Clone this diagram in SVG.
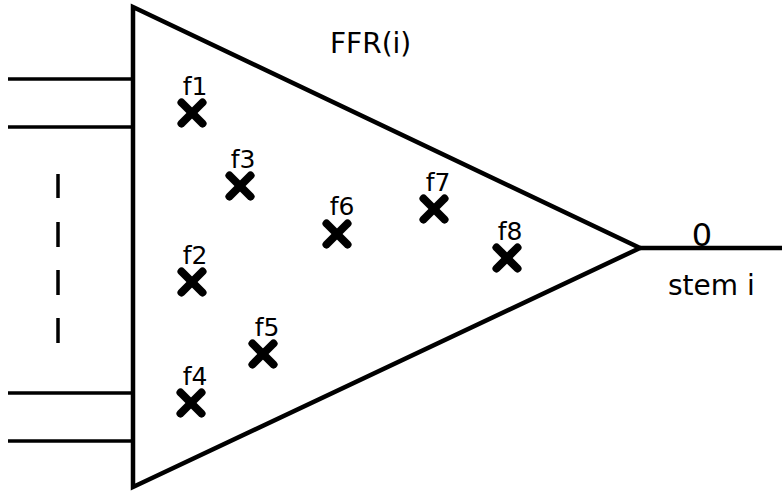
<svg xmlns="http://www.w3.org/2000/svg" width="782" height="491" viewBox="0 0 782 491">
<style>
.ln{stroke:#000;fill:none;stroke-width:4.5;stroke-linejoin:miter}
.in{stroke:#000;stroke-width:3.5}
.x{stroke:#000;stroke-width:8;stroke-linecap:round}
.lb{font-family:"DejaVu Sans",sans-serif;font-size:25px;fill:#000;text-anchor:middle}
.big{font-family:"DejaVu Sans",sans-serif;font-size:28px;fill:#000}
</style>
<defs>
<g id="cross"><line class="x" x1="-10.5" y1="-10.5" x2="10.5" y2="10.5"/><line class="x" x1="-10.5" y1="10.5" x2="10.5" y2="-10.5"/></g>
</defs>
<rect width="782" height="491" fill="#fff"/>
<g id="connectors">
<line class="in" x1="8" y1="79" x2="133" y2="79"/>
<line class="in" x1="8" y1="127" x2="133" y2="127"/>
<line class="in" x1="8" y1="393" x2="133" y2="393"/>
<line class="in" x1="8" y1="441" x2="133" y2="441"/>
<line class="in" x1="58" y1="174" x2="58" y2="198"/>
<line class="in" x1="58" y1="222" x2="58" y2="247"/>
<line class="in" x1="58" y1="270" x2="58" y2="295"/>
<line class="in" x1="58" y1="318" x2="58" y2="343"/>
<line class="ln" x1="640" y1="248" x2="782" y2="248"/>
</g>
<g id="ffr">
<polygon class="ln" points="133,7 640,248 133,487"/>
<text class="big" x="330" y="53">FFR(i)</text>
</g>
<g id="f1"><use href="#cross" x="192" y="113"/><text class="lb" x="195" y="95">f1</text></g>
<g id="f2"><use href="#cross" x="192" y="282"/><text class="lb" x="195" y="264">f2</text></g>
<g id="f3"><use href="#cross" x="240" y="186"/><text class="lb" x="243" y="168">f3</text></g>
<g id="f4"><use href="#cross" x="191" y="403"/><text class="lb" x="195" y="385">f4</text></g>
<g id="f5"><use href="#cross" x="263" y="354"/><text class="lb" x="267" y="336">f5</text></g>
<g id="f6"><use href="#cross" x="337" y="234"/><text class="lb" x="342" y="215">f6</text></g>
<g id="f7"><use href="#cross" x="434" y="209"/><text class="lb" x="438" y="191">f7</text></g>
<g id="f8"><use href="#cross" x="507" y="258"/><text class="lb" x="510" y="240">f8</text></g>
<g id="stem">
<text class="big" x="702" y="246" text-anchor="middle" style="font-size:32px">0</text>
<text class="big" x="668" y="295">stem i</text>
</g>
</svg>
